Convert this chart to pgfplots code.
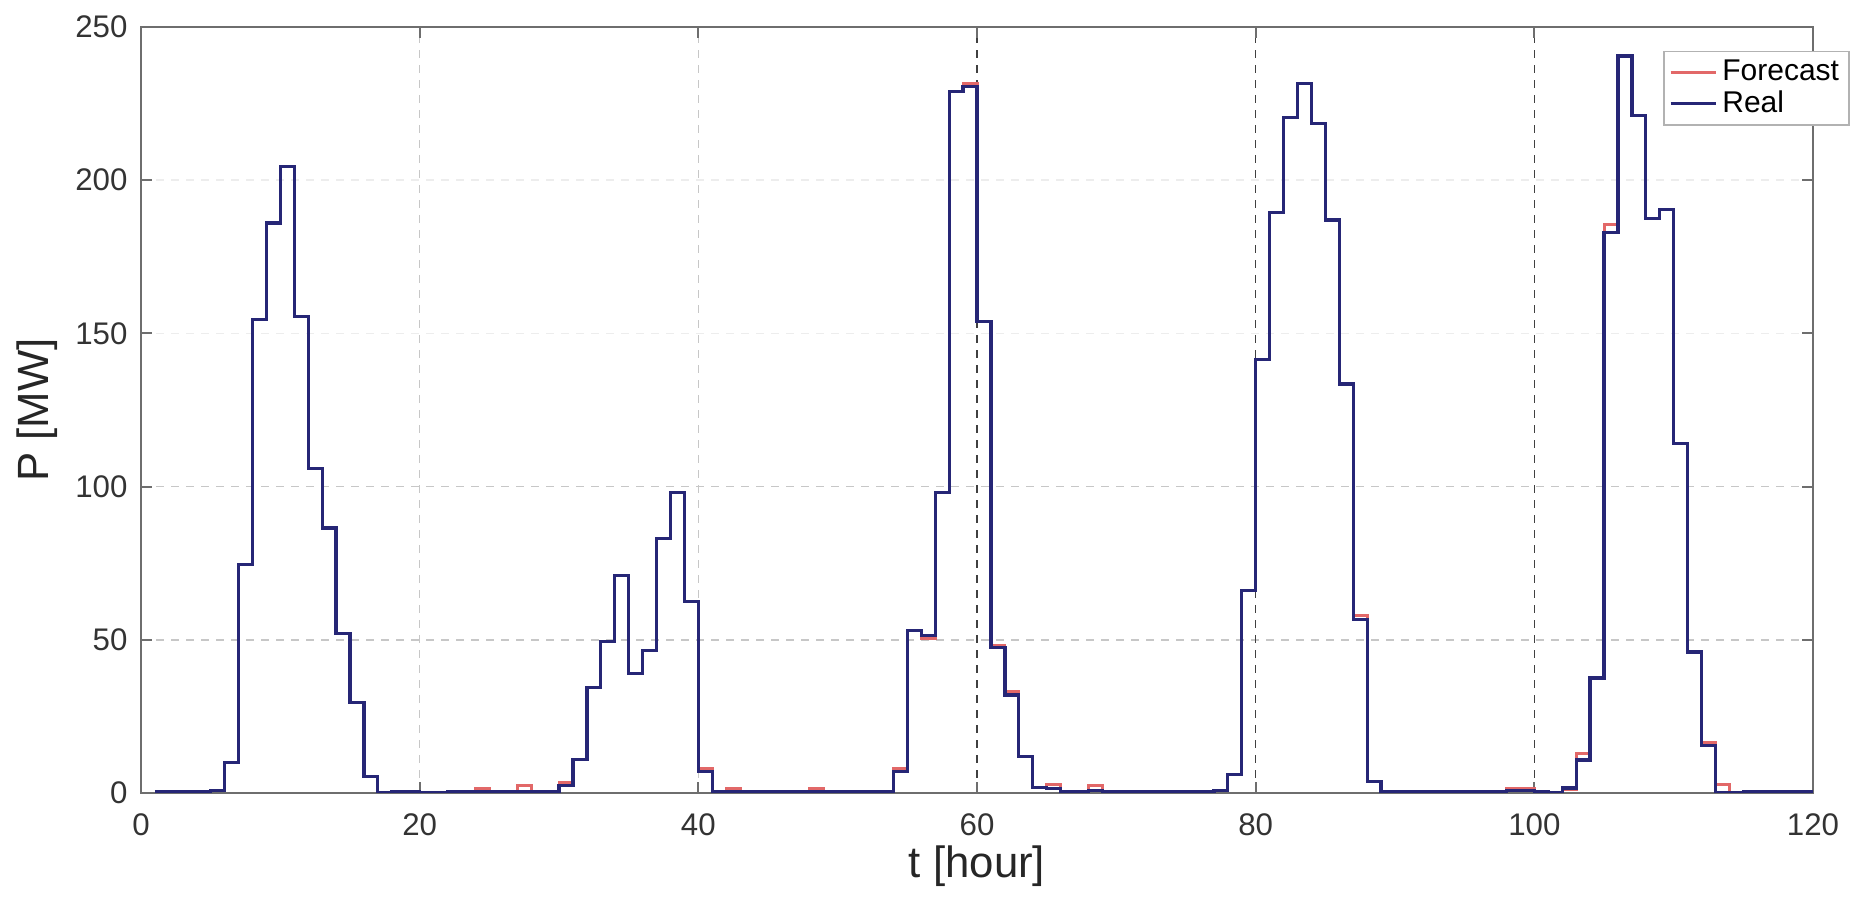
\documentclass[border=0pt]{standalone}
\usepackage{fontspec}
\setmainfont{Liberation Sans}
\usepackage{pgfplots}
\pgfplotsset{compat=1.18}
\usepackage{pgfplotstable}
\definecolor{fcred}{RGB}{226,104,104}
\definecolor{realblue}{RGB}{38,38,118}
\definecolor{framegray}{RGB}{110,110,110}

\pgfplotstableread{
t P
1 0.3
2 0.3
3 0.4
4 0.5
5 0.8
6 10
7 74.5
8 154.5
9 186
10 204.5
11 155.5
12 106
13 86.5
14 52
15 29.5
16 5.5
17 0.2
18 0.5
19 0.5
20 0.2
21 0.2
22 0.5
23 0.3
24 1.5
25 0.3
26 0.3
27 2.5
28 0.3
29 0.3
30 3.3
31 11
32 34.5
33 49.5
34 71
35 39
36 46.5
37 83
38 98
39 62.5
40 8
41 0.3
42 1.4
43 0.3
44 0.3
45 0.3
46 0.3
47 0.3
48 1.6
49 0.3
50 0.3
51 0.5
52 0.3
53 0.3
54 8
55 53
56 50.5
57 98
58 229
59 231.5
60 154
61 48
62 33
63 12
64 1.8
65 2.7
66 0.3
67 0.3
68 2.5
69 0.3
70 0.5
71 0.5
72 0.5
73 0.3
74 0.5
75 0.5
76 0.3
77 0.8
78 6
79 66
80 141.5
81 189.5
82 220.5
83 231.5
84 218.5
85 187
86 133.5
87 58
88 3.8
89 0.3
90 0.3
91 0.6
92 0.6
93 0.3
94 0.3
95 0.3
96 0.3
97 0.3
98 1.4
99 1.5
100 0.3
101 0
102 1
103 13
104 37.5
105 185.5
106 240.5
107 221
108 187.5
109 190.5
110 114
111 46
112 16.5
113 2.7
114 0.2
115 0.3
116 0.5
117 0.3
118 0.5
119 0.3
120 0.3
}\forecast

\pgfplotstableread{
t P
1 0.3
2 0.3
3 0.4
4 0.5
5 0.8
6 10
7 74.5
8 154.5
9 186
10 204.5
11 155.5
12 106
13 86.5
14 52
15 29.5
16 5.3
17 0.2
18 0.5
19 0.5
20 0.2
21 0.2
22 0.5
23 0.3
24 0.4
25 0.3
26 0.3
27 0.5
28 0.3
29 0.3
30 2.5
31 11
32 34.5
33 49.5
34 71
35 39
36 46.5
37 83
38 98
39 62.5
40 7
41 0.3
42 0.5
43 0.3
44 0.3
45 0.3
46 0.3
47 0.3
48 0.5
49 0.3
50 0.3
51 0.5
52 0.3
53 0.3
54 7
55 53
56 51.5
57 98
58 229
59 230.5
60 154
61 47.5
62 32
63 12
64 1.8
65 1.4
66 0.3
67 0.3
68 0.8
69 0.3
70 0.5
71 0.5
72 0.5
73 0.3
74 0.5
75 0.5
76 0.3
77 0.8
78 6
79 66
80 141.5
81 189.5
82 220.5
83 231.5
84 218.5
85 187
86 133.5
87 56.5
88 3.8
89 0.3
90 0.3
91 0.6
92 0.6
93 0.3
94 0.3
95 0.3
96 0.3
97 0.3
98 0.8
99 0.8
100 0.3
101 0
102 1.6
103 10.8
104 37.5
105 183
106 240.5
107 221
108 187.5
109 190.5
110 114
111 46
112 15.5
113 0.2
114 0.2
115 0.3
116 0.5
117 0.3
118 0.5
119 0.3
120 0.3
}\real

\begin{document}
\begin{tikzpicture}
\begin{axis}[
  name=ax,
  scale only axis,
  width=668.8pt, height=306.4pt,
  xmin=0, xmax=120, ymin=0, ymax=250,
  xtick={0,20,40,120},
  extra x ticks={60,80,100},
  extra x tick style={major grid style={dashed, black!75, line width=0.6pt}},
  ytick={0,50,100,250},
  extra y ticks={150,200},
  extra y tick style={major grid style={dashed, black!7, line width=0.6pt}},
  grid=major,
  major grid style={dashed, black!22, line width=0.6pt},
  axis line style={framegray, line width=0.8pt},
  tick style={framegray, line width=0.8pt},
  tick align=inside,
  major tick length=4.4pt,
  /pgf/number format/assume math mode=true,
  tick label style={font=\fontsize{12.5}{14}\selectfont, text=black!80},
  xticklabel style={inner sep=0pt, yshift=-8pt, anchor=north},
  yticklabel style={inner sep=0pt, xshift=-5.2pt, anchor=east},
  xlabel={t [hour]},
  ylabel={P [MW]},
  label style={font=\fontsize{17.5}{20}\selectfont, text=black!85},
  xlabel style={at={(axis description cs:0.5,-0.0953)}, anchor=center},
  ylabel style={at={(axis description cs:-0.0622,0.5)}, anchor=center},
  legend style={
    at={(axis description cs:1.022,0.969)}, anchor=north east,
    draw=black!30, line width=0.6pt,
    font=\fontsize{12}{12.4}\selectfont,
    inner xsep=2pt, inner ysep=1.5pt,
    row sep=-1.5pt,
    legend cell align=left,
  },
  legend image code/.code={\draw[#1] (0pt,0pt) -- (18pt,0pt);},
]
\addplot[const plot, color=fcred, line width=1.2pt] table[x=t,y=P] {\forecast};
\addlegendentry{Forecast}
\addplot[const plot, color=realblue, line width=1.3pt] table[x=t,y=P] {\real};
\addlegendentry{Real}
\end{axis}
\pgfresetboundingbox
\path (ax.south west) ++(-56.4pt,-44.8pt) rectangle ([shift={(20.4pt,10.8pt)}]ax.north east);
\end{tikzpicture}
\end{document}
